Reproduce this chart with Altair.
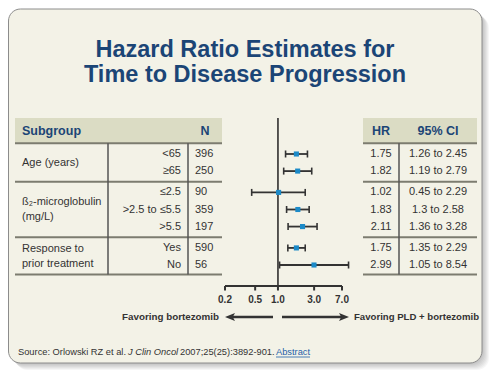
import altair as alt
import pandas as pd

# ---------------- data ----------------
title_lines = ["Hazard Ratio Estimates for", "Time to Disease Progression"]
group_labels = [["Age (years)"], ["ß₂-microglobulin", "(mg/L)"], ["Response to", "prior treatment"]]
levels = ["<65", "≥65", "≤2.5", ">2.5 to ≤5.5", ">5.5", "Yes", "No"]
group_index = [0, 0, 1, 1, 1, 2, 2]
n_patients = [396, 250, 90, 359, 197, 590, 56]
hr = [1.75, 1.82, 1.02, 1.83, 2.11, 1.75, 2.99]
ci_low = [1.26, 1.19, 0.45, 1.30, 1.36, 1.35, 1.05]
ci_high = [2.45, 2.79, 2.29, 2.58, 3.28, 2.29, 8.54]
tick_values = [0.2, 0.5, 1.0, 3.0, 7.0]
tick_labels = ["0.2", "0.5", "1.0", "3.0", "7.0"]
left_arrow_text = "Favoring bortezomib"
right_arrow_text = "Favoring PLD + bortezomib"
source_parts = ["Source: Orlowski RZ et al.", "J Clin Oncol", "2007;25(25):3892-901.", "Abstract"]

# ---------------- layout ----------------
FONT = "Liberation Sans"
NAVY = "#1b4576"
TXT = "#333333"
LINE = "#7c7c70"
W, H = 484, 362

GAP = 0.25
slots = [i + GAP * g for i, g in enumerate(group_index)]
rows = pd.DataFrame({
    "slot": slots,
    "level": levels,
    "n": [str(v) for v in n_patients],
    "hr": hr,
    "lo": ci_low,
    "hi": ci_high,
    "hr_txt": [f"{v:.2f}" for v in hr],
    "ci_txt": [f"{a:g} to {b:g}" for a, b in zip(ci_low, ci_high)],
})

line_step = 0.88
glines = []
for g, lines in enumerate(group_labels):
    gs = [s for s, gi in zip(slots, group_index) if gi == g]
    c = sum(gs) / len(gs)
    for k, t in enumerate(lines):
        glines.append({"slot": c + (k - (len(lines) - 1) / 2) * line_step, "t": t})
glines = pd.DataFrame(glines)

header_slot = slots[0] - 0.625
bottom_slot = slots[-1] + 0.55
seps = [header_slot, bottom_slot]
for g in range(max(group_index)):
    last = max(s for s, gi in zip(slots, group_index) if gi == g)
    first = min(s for s, gi in zip(slots, group_index) if gi == g + 1)
    seps.append((last + first) / 2)
seps_df = pd.DataFrame({"slot": seps})
vert_df = pd.DataFrame({"a": [header_slot], "b": [bottom_slot]})

yscale = alt.Scale(domain=[0, 6.5], range=[146, 257], nice=False, zero=False)
xscale = alt.Scale(type="log", domain=[0.2, 7.0], range=[217, 334], nice=False)

one = alt.Data(values=[{}])

def Y(field="slot"):
    return alt.Y(f"{field}:Q", scale=yscale, axis=None)

def X(field):
    return alt.X(f"{field}:Q", scale=xscale, axis=None)

layers = []

# card shadow + card
for d in range(1, 8):
    layers.append(alt.Chart(one).mark_rect(cornerRadius=12, color="#000000", opacity=0.035).encode(
        x=alt.value(0.5 + d), x2=alt.value(474 + d), y=alt.value(1 + d), y2=alt.value(355 + d)))
layers.append(alt.Chart(one).mark_rect(cornerRadius=12, fill="#f3f2e7", stroke="#8c8c8c", strokeWidth=1).encode(
    x=alt.value(0.5), x2=alt.value(474), y=alt.value(1), y2=alt.value(355)))

# title
for i, t in enumerate(title_lines):
    layers.append(alt.Chart(one).mark_text(text=t, font=FONT, fontSize=23.5, fontWeight="bold", color=NAVY,
                                           align="center", baseline="alphabetic").encode(
        x=alt.value(237), y=alt.value(49 + 25 * i)))

# header bands
for x0, x1 in [(7, 214), (355, 469)]:
    layers.append(alt.Chart(one).mark_rect(fill="#dbdcc4").encode(
        x=alt.value(x0), x2=alt.value(x1), y=alt.value(110), y2=alt.value(135)))

for t, xx, al in [("Subgroup", 14, "left"), ("N", 197, "center"), ("HR", 373, "center"), ("95% CI", 430, "center")]:
    layers.append(alt.Chart(one).mark_text(text=t, font=FONT, fontSize=12.5, fontWeight="bold", color=NAVY,
                                           align=al, baseline="middle").encode(
        x=alt.value(xx), y=alt.value(123)))

# table lines
for x0, x1 in [(7, 214), (355, 469)]:
    layers.append(alt.Chart(seps_df).mark_rule(color=LINE, strokeWidth=2).encode(
        x=alt.value(x0), x2=alt.value(x1), y=Y()))
for xx in [100, 180, 391]:
    layers.append(alt.Chart(vert_df).mark_rule(color="#555555", strokeWidth=1.5).encode(
        x=alt.value(xx), y=Y("a"), y2=alt.Y2("b:Q")))

# table text
txt = dict(font=FONT, fontSize=11, color=TXT, baseline="middle")
layers.append(alt.Chart(glines).mark_text(align="left", **txt).encode(x=alt.value(14), y=Y(), text="t:N"))
layers.append(alt.Chart(rows).mark_text(align="right", **txt).encode(x=alt.value(173), y=Y(), text="level:N"))
layers.append(alt.Chart(rows).mark_text(align="left", **txt).encode(x=alt.value(187), y=Y(), text="n:N"))
layers.append(alt.Chart(rows).mark_text(align="center", **txt).encode(x=alt.value(373), y=Y(), text="hr_txt:N"))
layers.append(alt.Chart(rows).mark_text(align="center", **txt).encode(x=alt.value(430), y=Y(), text="ci_txt:N"))

# forest plot
layers.append(alt.Chart(pd.DataFrame({"v": [1.0]})).mark_rule(color="#222222", strokeWidth=1.5).encode(
    x=X("v"), y=alt.value(110), y2=alt.value(278)))
layers.append(alt.Chart(pd.DataFrame({"a": [tick_values[0]], "b": [tick_values[-1]]})).mark_rule(
    color="#333333", strokeWidth=2).encode(x=X("a"), x2=alt.X2("b:Q"), y=alt.value(278)))
ticks_df = pd.DataFrame({"t": tick_values, "lab": tick_labels})
layers.append(alt.Chart(ticks_df).mark_rule(color="#333333", strokeWidth=2).encode(
    x=X("t"), y=alt.value(278), y2=alt.value(282.5)))
layers.append(alt.Chart(ticks_df).mark_text(font=FONT, fontSize=10, fontWeight="bold", color=TXT,
                                            align="center", baseline="middle").encode(
    x=X("t"), y=alt.value(292), text="lab:N"))

layers.append(alt.Chart(rows).mark_rule(color="#333333", strokeWidth=1.8).encode(
    x=X("lo"), x2=alt.X2("hi:Q"), y=Y()))
for f in ["lo", "hi"]:
    layers.append(alt.Chart(rows).mark_tick(orient="vertical", size=7, thickness=1.6, color="#333333", opacity=1).encode(
        x=X(f), y=Y()))
layers.append(alt.Chart(rows).mark_square(size=26, color="#1b8ac8", opacity=1).encode(x=X("hr"), y=Y()))

# arrows
layers.append(alt.Chart(one).mark_rule(color="#333333", strokeWidth=2.5).encode(
    x=alt.value(224), x2=alt.value(265), y=alt.value(309)))
layers.append(alt.Chart(one).mark_rule(color="#333333", strokeWidth=2.5).encode(
    x=alt.value(274), x2=alt.value(334), y=alt.value(309)))
layers.append(alt.Chart(one).mark_point(shape="M -1 0 L 1 -0.8 L 0.55 0 L 1 0.8 Z", size=100, filled=True,
                                        color="#333333", opacity=1).encode(x=alt.value(222), y=alt.value(309)))
layers.append(alt.Chart(one).mark_point(shape="M 1 0 L -1 -0.8 L -0.55 0 L -1 0.8 Z", size=100, filled=True,
                                        color="#333333", opacity=1).encode(x=alt.value(336), y=alt.value(309)))
layers.append(alt.Chart(one).mark_text(text=left_arrow_text, font=FONT, fontSize=9.8, fontWeight="bold", color=TXT,
                                       align="right", baseline="middle").encode(x=alt.value(211), y=alt.value(309)))
layers.append(alt.Chart(one).mark_text(text=right_arrow_text, font=FONT, fontSize=9.6, fontWeight="bold", color=TXT,
                                       align="left", baseline="middle").encode(x=alt.value(346), y=alt.value(309)))

# source line
src_x = [10, 120, 172, 268]
for i, (t, xx) in enumerate(zip(source_parts, src_x)):
    layers.append(alt.Chart(one).mark_text(text=t, font=FONT, fontSize=9.3, color="#1f5fa8" if i == 3 else TXT,
                                           fontStyle="italic" if i == 1 else "normal",
                                           align="left", baseline="middle").encode(x=alt.value(xx), y=alt.value(344)))
layers.append(alt.Chart(one).mark_rule(color="#1f5fa8", strokeWidth=0.8).encode(
    x=alt.value(268), x2=alt.value(302), y=alt.value(349)))

chart = alt.layer(*layers).properties(
    width=W, height=H, autosize=alt.AutoSizeParams(type="none"), padding=0, background="#ffffff"
).configure_view(stroke=None)

chart.save("out.html", embed_options={"renderer": "svg", "actions": False})
